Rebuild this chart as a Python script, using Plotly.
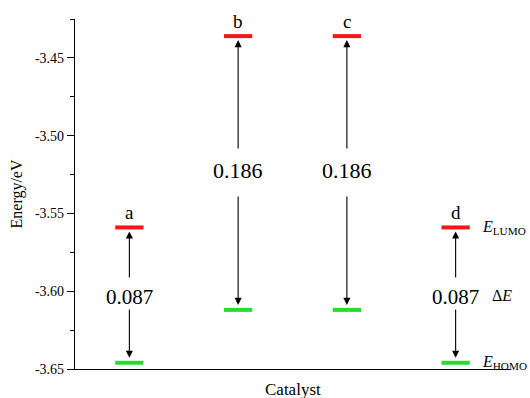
import plotly.graph_objects as go

catalysts = ["a", "b", "c", "d"]
positions = [1, 2, 3, 4]
lumo = [-3.559, -3.436, -3.436, -3.559]
homo = [-3.646, -3.612, -3.612, -3.646]
gap_labels = ["0.087", "0.186", "0.186", "0.087"]
gap_font = [21, 22, 22, 21]
yticks = [-3.65, -3.60, -3.55, -3.50, -3.45]
ytick_text = ["-3.65", "-3.60", "-3.55", "-3.50", "-3.45"]
x_title = "Catalyst"
y_title = "Energy/eV"

FONT = "'Liberation Serif', 'Times New Roman', 'DejaVu Serif', serif"
RED = "#f01818"
GREEN = "#22e02a"
HALF = 0.13
PX_PER_UNIT = 350 / 0.225  # plot height / y span

fig = go.Figure()

for x, lu, ho in zip(positions, lumo, homo):
    fig.add_trace(go.Scatter(x=[x - HALF, x + HALF], y=[lu, lu], mode="lines",
                             line=dict(color=RED, width=4), showlegend=False,
                             hoverinfo="skip"))
    fig.add_trace(go.Scatter(x=[x - HALF, x + HALF], y=[ho, ho], mode="lines",
                             line=dict(color=GREEN, width=4), showlegend=False,
                             hoverinfo="skip"))

annotations = []
for x, name, lu, ho, lab, fs in zip(positions, catalysts, lumo, homo, gap_labels, gap_font):
    mid = (lu + ho) / 2
    big = fs >= 22
    up_gap = (23 if big else 16) / PX_PER_UNIT
    dn_gap = (22 if big else 13) / PX_PER_UNIT
    annotations.append(dict(x=x, y=mid, xref="x", yref="y", text=lab, showarrow=False,
                            yshift=(3 if big else -2),
                            font=dict(family=FONT, size=fs, color="black")))
    annotations.append(dict(x=x, y=lu, xref="x", yref="y", text=name, showarrow=False,
                            yanchor="bottom", yshift=2,
                            font=dict(family=FONT, size=19, color="black")))
    annotations.append(dict(x=x, y=lu, xref="x", yref="y", text="", showarrow=True,
                            ax=x, ay=mid + up_gap, axref="x", ayref="y",
                            arrowhead=2, arrowsize=1.3, arrowwidth=1.1,
                            arrowcolor="black", standoff=4))
    annotations.append(dict(x=x, y=ho, xref="x", yref="y", text="", showarrow=True,
                            ax=x, ay=mid - dn_gap, axref="x", ayref="y",
                            arrowhead=2, arrowsize=1.3, arrowwidth=1.1,
                            arrowcolor="black", standoff=5))

last = positions[-1]
annotations.append(dict(x=last + 0.22, y=lumo[-1], xref="x", yref="y", xanchor="left",
                        text="<i>E</i><sub>LUMO</sub>", showarrow=False,
                        font=dict(family=FONT, size=16, color="black")))
annotations.append(dict(x=last + 0.32, y=(lumo[-1] + homo[-1]) / 2, xref="x", yref="y",
                        xanchor="left", text="Δ<i>E</i>", showarrow=False,
                        font=dict(family=FONT, size=16, color="black")))
annotations.append(dict(x=last + 0.22, y=homo[-1], xref="x", yref="y", xanchor="left",
                        text="<i>E</i><sub>HOMO</sub>", showarrow=False,
                        font=dict(family=FONT, size=16, color="black")))
# x-axis title placed just under the axis line
annotations.append(dict(x=0.5, y=0, xref="paper", yref="paper", text=x_title,
                        showarrow=False, yanchor="top", yshift=-9,
                        font=dict(family=FONT, size=17, color="black")))

fig.update_layout(
    width=530, height=398,
    margin=dict(l=75, r=20, t=19, b=29),
    paper_bgcolor="white", plot_bgcolor="white",
    font=dict(family=FONT, color="black"),
    annotations=annotations,
    xaxis=dict(range=[0.5, 4.5], showgrid=False, zeroline=False, automargin=False,
               showline=True, linecolor="black", linewidth=1.2,
               showticklabels=False, ticks=""),
    yaxis=dict(range=[-3.65, -3.425], showgrid=False, zeroline=False, automargin=False,
               showline=True, linecolor="black", linewidth=1.2,
               tickmode="array", tickvals=yticks, ticktext=ytick_text,
               ticks="outside", ticklen=7, tickwidth=1.2, tickcolor="black",
               tickfont=dict(family=FONT, size=14),
               minor=dict(dtick=0.025, tick0=-3.65, ticks="outside", ticklen=4,
                          tickwidth=1.2, tickcolor="black", showgrid=False),
               title=dict(text=y_title, font=dict(family=FONT, size=16),
                          standoff=8)),
)

fig.write_html("out.html", config={"displayModeBar": False},
               post_script="document.body.style.margin='0px';")
